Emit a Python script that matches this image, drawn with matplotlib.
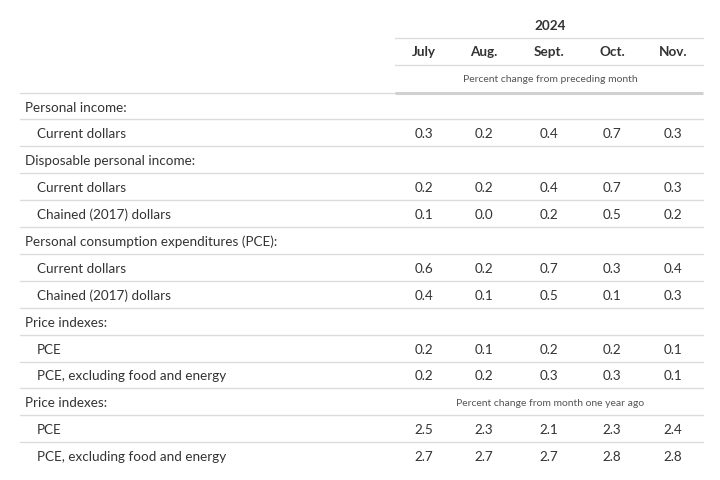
import matplotlib.pyplot as plt

# table content
year = "2024"
months = ["July", "Aug.", "Sept.", "Oct.", "Nov."]
note_monthly = "Percent change from preceding month"
note_yearly = "Percent change from month one year ago"

# (label, indent level, values or None)
rows = [
    ("Personal income:", 0, None),
    ("Current dollars", 1, [0.3, 0.2, 0.4, 0.7, 0.3]),
    ("Disposable personal income:", 0, None),
    ("Current dollars", 1, [0.2, 0.2, 0.4, 0.7, 0.3]),
    ("Chained (2017) dollars", 1, [0.1, 0.0, 0.2, 0.5, 0.2]),
    ("Personal consumption expenditures (PCE):", 0, None),
    ("Current dollars", 1, [0.6, 0.2, 0.7, 0.3, 0.4]),
    ("Chained (2017) dollars", 1, [0.4, 0.1, 0.5, 0.1, 0.3]),
    ("Price indexes:", 0, None),
    ("PCE", 1, [0.2, 0.1, 0.2, 0.2, 0.1]),
    ("PCE, excluding food and energy", 1, [0.2, 0.2, 0.3, 0.3, 0.1]),
    ("Price indexes:", 0, "yearly"),
    ("PCE", 1, [2.5, 2.3, 2.1, 2.3, 2.4]),
    ("PCE, excluding food and energy", 1, [2.7, 2.7, 2.7, 2.8, 2.8]),
]

plt.rcParams["font.family"] = ["Lato", "DejaVu Sans"]
TXT = "#333333"
NOTE = "#555555"
LINE = "#dcdcdc"
FS = 9.75
FS_NOTE = 7.45

fig = plt.figure(figsize=(7.2, 4.8), dpi=100)
ax = fig.add_axes([0, 0, 1, 1])
ax.set_xlim(0, 720)
ax.set_ylim(480, 0)
ax.axis("off")

left, right = 20, 703
data_left = 395
col_x = [424, 484, 549, 612, 673]
mid = (data_left + right) / 2 + 1
dy = 1.5  # small nudge so text sits like the html rows

# header
ax.text(mid, 24 + dy, year, ha="center", va="center", fontsize=FS, fontweight="bold", color=TXT)
ax.plot([data_left, right], [37.5, 37.5], color=LINE, lw=1)
for x, m in zip(col_x, months):
    ax.text(x, 51 + dy, m, ha="center", va="center", fontsize=FS, fontweight="bold", color=TXT)
ax.plot([data_left, right], [65, 65], color=LINE, lw=1)
ax.text(mid, 78 + dy, note_monthly, ha="center", va="center", fontsize=FS_NOTE, color=NOTE)
ax.plot([left, data_left], [92.5, 92.5], color=LINE, lw=1)
ax.plot([data_left, right], [92.5, 92.5], color="#d0d0d0", lw=2.2, solid_capstyle="butt")

y0 = 106
pitch = 26.9
for i, (label, level, vals) in enumerate(rows):
    y = y0 + i * pitch
    ax.text(25 + 12 * level, y + dy, label, ha="left", va="center", fontsize=FS, color=TXT)
    if vals == "yearly":
        ax.text(mid, y + dy, note_yearly, ha="center", va="center", fontsize=FS_NOTE, color=NOTE)
    elif vals is not None:
        for x, v in zip(col_x, vals):
            ax.text(x, y + dy, f"{v:.1f}", ha="center", va="center", fontsize=FS, color=TXT)
    if i < len(rows) - 1:
        yl = y + pitch / 2
        ax.plot([left, right], [yl, yl], color=LINE, lw=1)

fig.savefig("out.png", dpi=100, facecolor="white")
